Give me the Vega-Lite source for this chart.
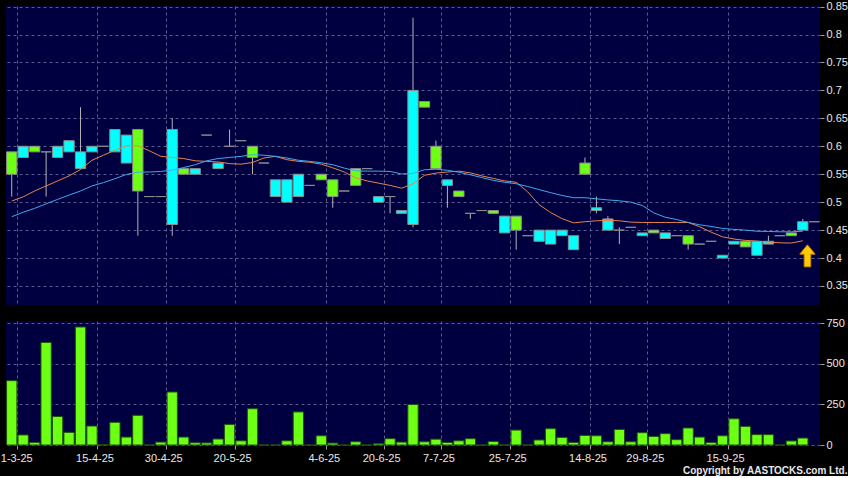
{
  "$schema": "https://vega.github.io/schema/vega-lite/v6.json",
  "background": "#000000",
  "padding": {"left": 0, "top": 0, "right": 0, "bottom": 0},
  "config": {
    "view": {"fill": "#000040", "stroke": null},
    "axis": {
      "labelFont": "Liberation Sans",
      "labelFontSize": 11,
      "labelColor": "#e8e8e8",
      "tickColor": "#9a9a9a",
      "gridColor": "#5a5a8e",
      "gridDash": [3, 3],
      "gridWidth": 1,
      "domain": false,
      "labelOverlap": false
    },
    "concat": {"spacing": 12}
  },
  "title": {
    "text": "Copyright by AASTOCKS.com Ltd.",
    "orient": "bottom",
    "anchor": "end",
    "frame": "bounds",
    "fontSize": 10,
    "fontWeight": "bold",
    "font": "Liberation Sans",
    "color": "#e8e8e8",
    "offset": 3
  },
  "datasets": {
    "d": [
      {"i":0,"o":0.55,"h":0.59,"l":0.51,"c":0.59,"v":397,"m1":0.502,"m2":0.474},
      {"i":1,"o":0.60,"h":0.60,"l":0.58,"c":0.58,"v":62,"m1":0.5095,"m2":0.482},
      {"i":2,"o":0.59,"h":0.60,"l":0.59,"c":0.60,"v":16,"m1":0.52,"m2":0.489},
      {"i":3,"o":0.59,"h":0.59,"l":0.51,"c":0.59,"v":633,"m1":0.529,"m2":0.497},
      {"i":4,"o":0.60,"h":0.60,"l":0.58,"c":0.58,"v":176,"m1":0.538,"m2":0.505},
      {"i":5,"o":0.61,"h":0.61,"l":0.59,"c":0.59,"v":78,"m1":0.547,"m2":0.5126},
      {"i":6,"o":0.59,"h":0.67,"l":0.56,"c":0.56,"v":728,"m1":0.5585,"m2":0.52},
      {"i":7,"o":0.60,"h":0.60,"l":0.59,"c":0.59,"v":117,"m1":0.575,"m2":0.529},
      {"i":8,"o":0.60,"h":0.60,"l":0.60,"c":0.60,"v":2,"m1":0.584,"m2":0.535},
      {"i":9,"o":0.63,"h":0.63,"l":0.59,"c":0.59,"v":140,"m1":0.593,"m2":0.542},
      {"i":10,"o":0.62,"h":0.62,"l":0.57,"c":0.57,"v":49,"m1":0.6007,"m2":0.5496},
      {"i":11,"o":0.52,"h":0.63,"l":0.44,"c":0.63,"v":183,"m1":0.601,"m2":0.5537},
      {"i":12,"o":0.51,"h":0.51,"l":0.51,"c":0.51,"v":0,"m1":0.592,"m2":0.554},
      {"i":13,"o":0.51,"h":0.51,"l":0.51,"c":0.51,"v":18,"m1":0.582,"m2":0.555},
      {"i":14,"o":0.63,"h":0.65,"l":0.44,"c":0.46,"v":327,"m1":0.58,"m2":0.5573},
      {"i":15,"o":0.55,"h":0.56,"l":0.55,"c":0.56,"v":49,"m1":0.578,"m2":0.562},
      {"i":16,"o":0.56,"h":0.56,"l":0.55,"c":0.55,"v":14,"m1":0.574,"m2":0.567},
      {"i":17,"o":0.62,"h":0.62,"l":0.62,"c":0.62,"v":13,"m1":0.573,"m2":0.574},
      {"i":18,"o":0.57,"h":0.57,"l":0.56,"c":0.56,"v":37,"m1":0.572,"m2":0.578},
      {"i":19,"o":0.60,"h":0.63,"l":0.60,"c":0.60,"v":127,"m1":0.569,"m2":0.58},
      {"i":20,"o":0.61,"h":0.61,"l":0.61,"c":0.61,"v":26,"m1":0.568,"m2":0.582},
      {"i":21,"o":0.58,"h":0.60,"l":0.55,"c":0.60,"v":224,"m1":0.571,"m2":0.585},
      {"i":22,"o":0.57,"h":0.57,"l":0.57,"c":0.57,"v":0,"m1":0.579,"m2":0.584},
      {"i":23,"o":0.54,"h":0.54,"l":0.51,"c":0.51,"v":0,"m1":0.582,"m2":0.582},
      {"i":24,"o":0.54,"h":0.54,"l":0.50,"c":0.50,"v":26,"m1":0.576,"m2":0.579},
      {"i":25,"o":0.55,"h":0.55,"l":0.51,"c":0.51,"v":204,"m1":0.573,"m2":0.575},
      {"i":26,"o":0.53,"h":0.53,"l":0.53,"c":0.53,"v":0,"m1":0.5715,"m2":0.573},
      {"i":27,"o":0.54,"h":0.55,"l":0.54,"c":0.55,"v":57,"m1":0.568,"m2":0.5705},
      {"i":28,"o":0.51,"h":0.54,"l":0.49,"c":0.54,"v":12,"m1":0.5615,"m2":0.567},
      {"i":29,"o":0.52,"h":0.52,"l":0.52,"c":0.52,"v":0,"m1":0.554,"m2":0.561},
      {"i":30,"o":0.53,"h":0.56,"l":0.53,"c":0.56,"v":20,"m1":0.5435,"m2":0.556},
      {"i":31,"o":0.56,"h":0.56,"l":0.56,"c":0.56,"v":0,"m1":0.538,"m2":0.5555},
      {"i":32,"o":0.51,"h":0.51,"l":0.50,"c":0.50,"v":8,"m1":0.534,"m2":0.5555},
      {"i":33,"o":0.51,"h":0.51,"l":0.48,"c":0.51,"v":39,"m1":0.53,"m2":0.555},
      {"i":34,"o":0.485,"h":0.485,"l":0.48,"c":0.48,"v":18,"m1":0.525,"m2":0.5505},
      {"i":35,"o":0.70,"h":0.83,"l":0.455,"c":0.46,"v":250,"m1":0.533,"m2":0.5515},
      {"i":36,"o":0.67,"h":0.68,"l":0.67,"c":0.68,"v":20,"m1":0.548,"m2":0.558},
      {"i":37,"o":0.56,"h":0.61,"l":0.56,"c":0.60,"v":36,"m1":0.552,"m2":0.559},
      {"i":38,"o":0.54,"h":0.54,"l":0.49,"c":0.53,"v":16,"m1":0.554,"m2":0.557},
      {"i":39,"o":0.51,"h":0.52,"l":0.51,"c":0.52,"v":26,"m1":0.5555,"m2":0.5535},
      {"i":40,"o":0.48,"h":0.48,"l":0.47,"c":0.48,"v":39,"m1":0.5525,"m2":0.549},
      {"i":41,"o":0.485,"h":0.485,"l":0.485,"c":0.485,"v":0,"m1":0.547,"m2":0.544},
      {"i":42,"o":0.48,"h":0.485,"l":0.48,"c":0.485,"v":22,"m1":0.5425,"m2":0.539},
      {"i":43,"o":0.475,"h":0.475,"l":0.445,"c":0.445,"v":0,"m1":0.538,"m2":0.5355},
      {"i":44,"o":0.45,"h":0.475,"l":0.415,"c":0.475,"v":92,"m1":0.5355,"m2":0.533},
      {"i":45,"o":0.44,"h":0.44,"l":0.44,"c":0.44,"v":0,"m1":0.5185,"m2":0.528},
      {"i":46,"o":0.45,"h":0.45,"l":0.43,"c":0.43,"v":31,"m1":0.4955,"m2":0.5225},
      {"i":47,"o":0.45,"h":0.45,"l":0.425,"c":0.425,"v":101,"m1":0.4815,"m2":0.517},
      {"i":48,"o":0.45,"h":0.45,"l":0.44,"c":0.44,"v":47,"m1":0.4705,"m2":0.512},
      {"i":49,"o":0.44,"h":0.44,"l":0.415,"c":0.415,"v":16,"m1":0.463,"m2":0.508},
      {"i":50,"o":0.55,"h":0.58,"l":0.55,"c":0.57,"v":59,"m1":0.465,"m2":0.508},
      {"i":51,"o":0.49,"h":0.51,"l":0.48,"c":0.485,"v":57,"m1":0.4667,"m2":0.506},
      {"i":52,"o":0.47,"h":0.475,"l":0.45,"c":0.45,"v":20,"m1":0.4673,"m2":0.504},
      {"i":53,"o":0.45,"h":0.455,"l":0.425,"c":0.45,"v":96,"m1":0.4667,"m2":0.5025},
      {"i":54,"o":0.455,"h":0.455,"l":0.455,"c":0.455,"v":20,"m1":0.4643,"m2":0.5},
      {"i":55,"o":0.445,"h":0.445,"l":0.44,"c":0.44,"v":76,"m1":0.4637,"m2":0.494},
      {"i":56,"o":0.445,"h":0.45,"l":0.445,"c":0.45,"v":53,"m1":0.4637,"m2":0.481},
      {"i":57,"o":0.445,"h":0.445,"l":0.435,"c":0.435,"v":70,"m1":0.4637,"m2":0.473},
      {"i":58,"o":0.44,"h":0.44,"l":0.44,"c":0.44,"v":33,"m1":0.4637,"m2":0.469},
      {"i":59,"o":0.425,"h":0.44,"l":0.415,"c":0.44,"v":105,"m1":0.4637,"m2":0.4637},
      {"i":60,"o":0.425,"h":0.425,"l":0.425,"c":0.425,"v":49,"m1":0.456,"m2":0.4595},
      {"i":61,"o":0.43,"h":0.43,"l":0.43,"c":0.43,"v":16,"m1":0.4464,"m2":0.4566},
      {"i":62,"o":0.405,"h":0.405,"l":0.40,"c":0.40,"v":57,"m1":0.438,"m2":0.453},
      {"i":63,"o":0.43,"h":0.43,"l":0.425,"c":0.425,"v":162,"m1":0.434,"m2":0.4513},
      {"i":64,"o":0.42,"h":0.43,"l":0.42,"c":0.43,"v":115,"m1":0.4316,"m2":0.45},
      {"i":65,"o":0.43,"h":0.43,"l":0.405,"c":0.405,"v":64,"m1":0.4303,"m2":0.448},
      {"i":66,"o":0.43,"h":0.44,"l":0.425,"c":0.425,"v":64,"m1":0.4285,"m2":0.4476},
      {"i":67,"o":0.44,"h":0.44,"l":0.44,"c":0.44,"v":0,"m1":0.4273,"m2":0.447},
      {"i":68,"o":0.44,"h":0.445,"l":0.44,"c":0.445,"v":25,"m1":0.4268,"m2":0.447},
      {"i":69,"o":0.465,"h":0.47,"l":0.45,"c":0.45,"v":43,"m1":0.431,"m2":0.448,"arrow":0.404},
      {"i":70,"o":0.465,"h":0.465,"l":0.465,"c":0.465}
    ]
  },
  "vconcat": [
    {
      "width": 814,
      "height": 299,
      "data": {"name": "d"},
      "encoding": {
        "x": {
          "field": "i",
          "type": "ordinal",
          "title": null,
          "scale": {
            "domain": [0,1,2,3,4,5,6,7,8,9,10,11,12,13,14,15,16,17,18,19,20,21,22,23,24,25,26,27,28,29,30,31,32,33,34,35,36,37,38,39,40,41,42,43,44,45,46,47,48,49,50,51,52,53,54,55,56,57,58,59,60,61,62,63,64,65,66,67,68,69,70],
            "paddingInner": 0.1,
            "paddingOuter": 0.05
          },
          "axis": {
            "grid": true,
            "labels": false,
            "ticks": false,
            "bandPosition": 1.05,
            "values": [0,7,13,19,27,32,37,43,50,55,62]
          }
        }
      },
      "layer": [
        {
          "mark": {"type": "rule", "color": "#b4b4b4", "strokeWidth": 1},
          "encoding": {
            "y": {
              "field": "l",
              "type": "quantitative",
              "title": null,
              "scale": {"domain": [0.316, 0.851], "nice": false, "zero": false},
              "axis": {"orient": "right", "values": [0.35,0.4,0.45,0.5,0.55,0.6,0.65,0.7,0.75,0.8,0.85], "labelExpr": "format(datum.value, '~g')", "grid": true, "tickSize": 4, "labelPadding": 2, "labelOverlap": false, "labelSeparation": 0}
            },
            "y2": {"field": "h"}
          }
        },
        {
          "mark": {"type": "bar", "stroke": "#8c8c8c", "strokeWidth": 1},
          "encoding": {
            "y": {
              "field": "o", "type": "quantitative", "title": null,
              "axis": {"orient": "right", "values": [0.35,0.4,0.45,0.5,0.55,0.6,0.65,0.7,0.75,0.8,0.85], "labelExpr": "format(datum.value, '~g')", "grid": true, "tickSize": 4, "labelPadding": 2, "labelOverlap": false, "labelSeparation": 0}
            },
            "y2": {"field": "c"},
            "fill": {
              "condition": {"test": "datum.c >= datum.o", "value": "#6dff14"},
              "value": "#00ffff"
            }
          }
        },
        {
          "mark": {"type": "line", "color": "#e8834a", "strokeWidth": 1},
          "encoding": {
            "y": {
              "field": "m1", "type": "quantitative", "title": null,
              "axis": {"orient": "right", "values": [0.35,0.4,0.45,0.5,0.55,0.6,0.65,0.7,0.75,0.8,0.85], "labelExpr": "format(datum.value, '~g')", "grid": true, "tickSize": 4, "labelPadding": 2, "labelOverlap": false, "labelSeparation": 0}
            }
          }
        },
        {
          "mark": {"type": "line", "color": "#3fa9f0", "strokeWidth": 1},
          "encoding": {
            "y": {
              "field": "m2", "type": "quantitative", "title": null,
              "axis": {"orient": "right", "values": [0.35,0.4,0.45,0.5,0.55,0.6,0.65,0.7,0.75,0.8,0.85], "labelExpr": "format(datum.value, '~g')", "grid": true, "tickSize": 4, "labelPadding": 2, "labelOverlap": false, "labelSeparation": 0}
            }
          }
        },
        {
          "mark": {
            "type": "point",
            "shape": "M0,-1L0.7,-0.15L0.3,-0.15L0.3,1L-0.3,1L-0.3,-0.15L-0.7,-0.15Z",
            "size": 484,
            "filled": true,
            "fill": "#ffcc00",
            "stroke": "#c88400",
            "strokeWidth": 1,
            "opacity": 1
          },
          "encoding": {
            "x": {"field": "i", "type": "ordinal", "bandPosition": 0.95},
            "y": {
              "field": "arrow", "type": "quantitative", "title": null,
              "axis": {"orient": "right", "values": [0.35,0.4,0.45,0.5,0.55,0.6,0.65,0.7,0.75,0.8,0.85], "labelExpr": "format(datum.value, '~g')", "grid": true, "tickSize": 4, "labelPadding": 2, "labelOverlap": false, "labelSeparation": 0}
            }
          }
        }
      ]
    },
    {
      "width": 814,
      "height": 124,
      "data": {"name": "d"},
      "mark": {"type": "bar", "fill": "#6dff14", "stroke": "#1f4f0a", "strokeWidth": 1},
      "encoding": {
        "x": {
          "field": "i",
          "type": "ordinal",
          "title": null,
          "scale": {
            "domain": [0,1,2,3,4,5,6,7,8,9,10,11,12,13,14,15,16,17,18,19,20,21,22,23,24,25,26,27,28,29,30,31,32,33,34,35,36,37,38,39,40,41,42,43,44,45,46,47,48,49,50,51,52,53,54,55,56,57,58,59,60,61,62,63,64,65,66,67,68,69,70],
            "paddingInner": 0.1,
            "paddingOuter": 0.05
          },
          "axis": {
            "grid": true,
            "bandPosition": 1.05,
            "values": [0,7,13,19,27,32,37,43,50,55,62],
            "labelExpr": "datum.value==0?'1-3-25':datum.value==7?'15-4-25':datum.value==13?'30-4-25':datum.value==19?'20-5-25':datum.value==27?'4-6-25':datum.value==32?'20-6-25':datum.value==37?'7-7-25':datum.value==43?'25-7-25':datum.value==50?'14-8-25':datum.value==55?'29-8-25':'15-9-25'",
            "labelAngle": 0,
            "labelOffset": {"condition": {"test": "datum.value == 0", "value": 5}, "value": 3},
            "tickSize": 4,
            "labelPadding": 3
          }
        },
        "y": {
          "field": "v",
          "type": "quantitative",
          "title": null,
          "scale": {"domain": [0, 765], "nice": false},
          "axis": {
            "orient": "right",
            "values": [0, 250, 500, 750],
            "grid": true,
            "tickSize": 4,
            "labelPadding": 2,
            "labelOverlap": false
          }
        }
      }
    }
  ]
}
